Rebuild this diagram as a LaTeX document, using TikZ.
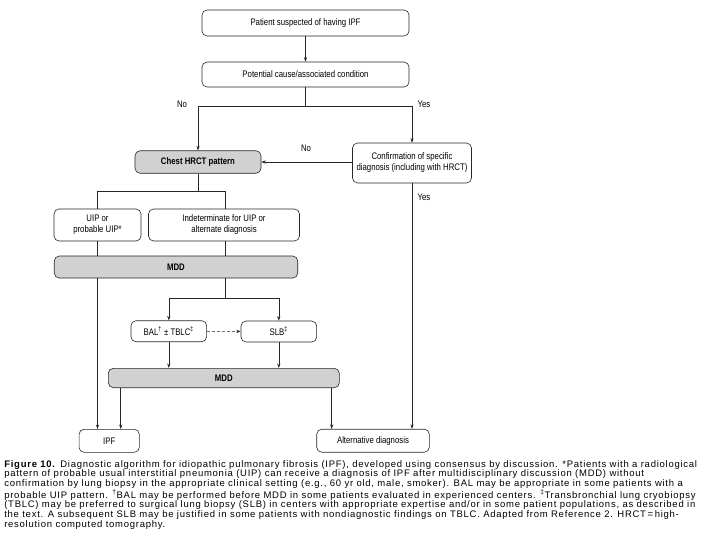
\documentclass[tikz,border=0pt]{standalone}
\usepackage{fontspec}
\setmainfont{Liberation Sans}
\newfontfamily\condfont[FakeStretch=0.82]{Liberation Sans}
\newfontfamily\captfont[LetterSpace=7.8]{Liberation Sans}
\usetikzlibrary{arrows.meta}
\tikzset{
  box/.style={draw=black!85,rounded corners=5pt,line width=0.6pt,inner sep=0pt,align=center,font=\condfont\fontsize{9.5}{11}\selectfont},
  graybox/.style={box,fill=black!18,font=\condfont\fontsize{9.5}{11}\selectfont\bfseries},
  arr/.style={-{Stealth[length=4.5pt,width=3.2pt]}},
  lbl/.style={font=\condfont\fontsize{9.5}{11}\selectfont,inner sep=0pt},
}
\begin{document}
\begin{tikzpicture}[x=1pt,y=-1pt,line width=0.6pt,draw=black!85]
        \useasboundingbox (0,0) rectangle (703,557);
        %% Top
        \node[box,minimum width=207pt,minimum height=26pt] (patient) at (305.5,23) {Patient suspected of having IPF};
        \node[box,minimum width=207pt,minimum height=25pt] (cause) at (305.5,74.5) {Potential cause/associated condition};
        \draw[arr] (patient) -- (cause);
        \coordinate (forkcause) at (305.5,106);
        \draw (cause) -- (forkcause);
        \node[lbl] (nocause) at (182,104) {No};
        \node[lbl] (yescause) at (424,104) {Yes};
        %% HRCT
        \node[graybox,minimum width=126pt,minimum height=22.5pt] (hrct) at (198,162) {Chest HRCT pattern};
        \node[box,minimum width=119pt,minimum height=40pt] (confirm) at (412,163) {Confirmation of specific\\diagnosis (including with HRCT)};
        \draw[arr] (forkcause) -| (hrct);
        \draw[arr] (forkcause) -| (confirm);
        \draw[arr] (confirm.west |- hrct) -- (hrct);
        \node[lbl] (noconfirm) at (306,148) {No};
        \node[lbl] (yesconfirm) at (424,197) {Yes};
        %% Patterns
        \node[box,minimum width=87pt,minimum height=32pt] (uip) at (97.5,225) {UIP or\\probable UIP*};
        \node[box,minimum width=151pt,minimum height=32pt] (indet) at (224,225) {Indeterminate for UIP or\\alternate diagnosis};
        \coordinate (forkhrct) at (198,191.7);
        \draw (hrct) -- (forkhrct);
        \draw (forkhrct) -| (uip);
        \draw (forkhrct) -| ([xshift=1pt]indet.north);
        %% First MDD
        \node[graybox,minimum width=243.5pt,minimum height=22pt] (mddone) at (176,267) {MDD};
        \draw (uip) -- (uip |- mddone.north);
        \draw ([xshift=1pt]indet.south) -- ([xshift=1pt]indet.south |- mddone.north);
        %% Biopsy
        \node[box,minimum width=75.7pt,minimum height=21pt] (bal) at (168.8,331.2) {BAL\textsuperscript{†} ± TBLC\textsuperscript{‡}};
        \node[box,minimum width=75.7pt,minimum height=21pt] (slb) at (278.8,331.5) {SLB\textsuperscript{‡}};
        \coordinate (forkmdd) at (225,298.3);
        \draw (forkmdd |- mddone.south) -- (forkmdd);
        \draw[arr] (forkmdd) -| (bal);
        \draw[arr] (forkmdd) -| (slb);
        \draw[arr,dashed,dash pattern=on 3pt off 2pt] (bal) -- (slb);
        %% Second MDD
        \node[graybox,minimum width=231pt,minimum height=19.4pt] (mddtwo) at (223.8,378) {MDD};
        \draw[arr] (bal) -- (bal |- mddtwo.north);
        \draw[arr] (slb) -- (slb |- mddtwo.north);
        %% Outcomes
        \node[box,minimum width=60.3pt,minimum height=23pt] (ipf) at (109.2,440.8) {IPF};
        \node[box,minimum width=112.6pt,minimum height=23pt] (altdiag) at (373,440.7) {Alternative diagnosis};
        \coordinate (toipf) at (120.7,0);
        \coordinate (toalt) at (331.7,0);
        \draw[arr] (uip |- mddone.south) -- (uip |- ipf.north);
        \draw[arr] (toipf |- mddtwo.south) -- (toipf |- ipf.north);
        \draw[arr] (toalt |- mddtwo.south) -- (toalt |- altdiag.north);
        \draw[arr] (confirm) -- (confirm |- altdiag.north);
        %% Caption
        \node[anchor=north west,align=left,inner sep=0pt,font=\captfont\fontsize{9.5}{9.7}\selectfont] (caption) at (4,460) {%
\textbf{Figure 10.} Diagnostic algorithm for idiopathic pulmonary fibrosis (IPF), developed using consensus by discussion. *Patients with a radiological\\
pattern of probable usual interstitial pneumonia (UIP) can receive a diagnosis of IPF after multidisciplinary discussion (MDD) without\\
confirmation by lung biopsy in the appropriate clinical setting (e.g., 60 yr old, male, smoker). BAL may be appropriate in some patients with a\\
probable UIP pattern. \textsuperscript{†}BAL may be performed before MDD in some patients evaluated in experienced centers. \textsuperscript{‡}Transbronchial lung cryobiopsy\\
(TBLC) may be preferred to surgical lung biopsy (SLB) in centers with appropriate expertise and/or in some patient populations, as described in\\
the text. A subsequent SLB may be justified in some patients with nondiagnostic findings on TBLC. Adapted from Reference 2. HRCT\,=\,high-\\
resolution computed tomography.};
\end{tikzpicture}
\end{document}
